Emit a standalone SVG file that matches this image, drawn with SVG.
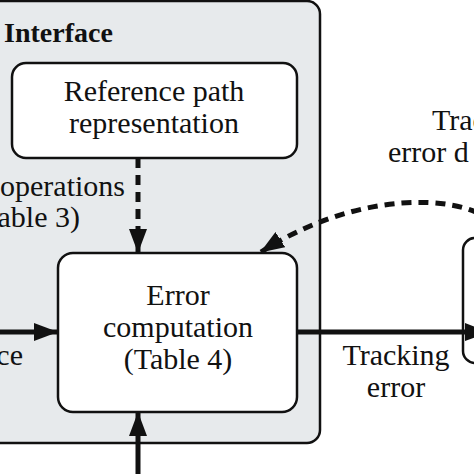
<svg xmlns="http://www.w3.org/2000/svg" width="474" height="474" viewBox="0 0 474 474">
<style>
.t{font-family:"Liberation Serif","Times New Roman",serif;font-size:30px;fill:#111}
.b{font-family:"Liberation Serif","Times New Roman",serif;font-size:28px;font-weight:bold;fill:#111}
.box{fill:#fff;stroke:#111;stroke-width:2.5}
.solid{stroke:#111;stroke-width:5;fill:none}
.dash{stroke:#111;stroke-width:5;fill:none;stroke-dasharray:10 7}
</style>
<defs>
<marker id="ah" markerUnits="userSpaceOnUse" markerWidth="24" markerHeight="18" refX="23" refY="9" orient="auto">
<path d="M0,0 L24,9 L0,18 Z" fill="#111"/>
</marker>
</defs>
<rect width="474" height="474" fill="#fff"/>
<g id="interface">
<rect x="-20" y="1" width="340" height="442" rx="13" fill="#e7eaec" stroke="#111" stroke-width="2.5"/>
<text class="b" x="4" y="42">Interface</text>
</g>
<g id="reference-path">
<rect class="box" x="12" y="63" width="285" height="95" rx="14"/>
<text class="t" x="154" y="101" text-anchor="middle">Reference path</text>
<text class="t" x="154" y="133" text-anchor="middle">representation</text>
</g>
<g id="error-computation">
<rect class="box" x="58" y="253" width="239" height="159" rx="15"/>
<text class="t" x="178" y="305" text-anchor="middle">Error</text>
<text class="t" x="178" y="337" text-anchor="middle">computation</text>
<text class="t" x="178" y="369" text-anchor="middle">(Table 4)</text>
</g>
<g id="right-box">
<rect x="463" y="238" width="40" height="125" rx="12" fill="#fff" stroke="#111" stroke-width="2.5"/>
</g>
<g id="connectors">
<path class="dash" d="M138,158 L138,252" marker-end="url(#ah)"/>
<path class="dash" d="M478,213 C440,195 350,195 261,252" marker-end="url(#ah)"/>
<path class="solid" d="M-5,332 L57,332" marker-end="url(#ah)"/>
<path class="solid" d="M297,332 L488,332" marker-end="url(#ah)"/>
<path class="solid" d="M138,480 L138,413" marker-end="url(#ah)"/>
</g>
<g id="labels">
<text class="t" x="125" y="196" text-anchor="end">operations</text>
<text class="t" x="80" y="227" text-anchor="end">(Table 3)</text>
<text class="t" x="23" y="365" text-anchor="end">ce</text>
<text class="t" x="432" y="130">Trac</text>
<text class="t" x="388" y="162">error d</text>
<text class="t" x="396" y="365" text-anchor="middle">Tracking</text>
<text class="t" x="396" y="397" text-anchor="middle">error</text>
</g>
</svg>
